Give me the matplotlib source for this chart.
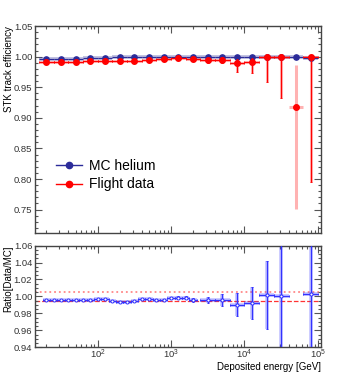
import numpy as np
import matplotlib
matplotlib.use("Agg")
import matplotlib.pyplot as plt
from matplotlib.lines import Line2D
from matplotlib.ticker import MultipleLocator, LogLocator, NullFormatter

plt.rcParams["font.family"] = ["Liberation Sans", "DejaVu Sans"]

# efficiency panel: bin centres (log10 GeV), half width 0.1 decade
eff_logE = [1.3, 1.5, 1.7, 1.9, 2.1, 2.3, 2.5, 2.7, 2.9, 3.1,
            3.3, 3.5, 3.7, 3.9, 4.1, 4.3, 4.5, 4.7, 4.9]
mc_eff = [0.9958, 0.9958, 0.9965, 0.9978, 0.9975, 0.9992, 0.9990, 0.9990, 0.9996, 0.9996,
          0.9995, 0.9995, 0.9995, 0.9995, 0.9995, 0.9995, 0.9995, 0.9995, 0.9972]
data_eff = [0.9912, 0.9912, 0.9918, 0.9928, 0.9930, 0.9933, 0.9933, 0.9938, 0.9955, 0.9978,
            0.9965, 0.9940, 0.9942, 0.9895, 0.9915, 1.0000, 0.9998, 0.9170, 0.9993]
data_err_lo = [0.001, 0.001, 0.001, 0.001, 0.001, 0.001, 0.001, 0.001, 0.0012, 0.0015,
               0.002, 0.004, 0.005, 0.015, 0.019, 0.041, 0.068, 0.166, 0.204]
data_err_hi = [0.001, 0.001, 0.001, 0.001, 0.001, 0.001, 0.001, 0.001, 0.0012, 0.0015,
               0.002, 0.004, 0.005, 0.007, 0.006, 0.0, 0.0002, 0.069, 0.0007]
# points whose error is only drawn as the pale band
pale_only = [4.7]

# ratio panel: bin centres and half widths (log10 GeV)
ratio_logE = [1.3, 1.4, 1.5, 1.6, 1.7, 1.8, 1.9, 2.0, 2.1, 2.2, 2.3, 2.4, 2.5, 2.6, 2.7,
              2.8, 2.9, 3.0, 3.1, 3.2, 3.3, 3.5, 3.7, 3.9, 4.1, 4.3, 4.5, 4.9]
ratio_half = [0.05] * 21 + [0.1] * 7
ratio_val = [0.9953, 0.9953, 0.9955, 0.9953, 0.9955, 0.9953, 0.9953, 0.9968, 0.9970, 0.9945,
             0.9940, 0.9940, 0.9942, 0.9965, 0.9966, 0.9962, 0.9962, 0.9982, 0.9985, 0.9985,
             0.9958, 0.9955, 0.9960, 0.9905, 0.9925, 1.0015, 1.0010, 1.0030]
ratio_err = [0.0005, 0.0005, 0.0005, 0.0005, 0.0005, 0.0005, 0.0005, 0.0006, 0.0006, 0.0007,
             0.0007, 0.0008, 0.0008, 0.0009, 0.0010, 0.0011, 0.0012, 0.0014, 0.0016, 0.0020,
             0.0025, 0.0035, 0.0070, 0.0140, 0.0190, 0.0400, 0.0800, 0.2000]
ratio_band = [1.005, 0.995]

C_MC = "#2b2b99"
C_DATA = "#ff0000"
C_RATIO = "#3333ff"


def _xerr(logs, half):
    logs = np.asarray(logs, float)
    half = np.asarray(half, float)
    x = 10 ** logs
    return x, np.vstack([x - 10 ** (logs - half), 10 ** (logs + half) - x])


def _style(ax, major, minor):
    ax.set_xscale("log")
    ax.set_xlim(14, 1.1e5)
    ax.yaxis.set_major_locator(MultipleLocator(major))
    ax.yaxis.set_minor_locator(MultipleLocator(minor))
    ax.xaxis.set_major_locator(LogLocator(base=10, numticks=10))
    ax.xaxis.set_minor_locator(LogLocator(base=10, subs=np.arange(2, 10), numticks=20))
    ax.xaxis.set_minor_formatter(NullFormatter())
    ax.tick_params(which="both", direction="in", top=True, right=True,
                   labelsize=6.8, labelcolor="#333333", color="#555555", width=0.8, pad=2)
    ax.tick_params(which="major", length=5)
    ax.tick_params(which="minor", length=2.5)
    for s in ax.spines.values():
        s.set_linewidth(1.0)
        s.set_color("#444444")


fig = plt.figure(figsize=(3.57, 3.72), dpi=100)
ax = fig.add_axes([0.098, 0.374, 0.801, 0.556])
axr = fig.add_axes([0.098, 0.066, 0.801, 0.274])

# --- efficiency panel
x, xe = _xerr(eff_logE, [0.1] * len(eff_logE))
ax.errorbar(x, mc_eff, xerr=xe, fmt="none", ecolor=C_MC, elinewidth=2.6, alpha=0.35)
ax.errorbar(x, mc_eff, xerr=xe, fmt="o", color=C_MC, ms=3.8, elinewidth=0.8, zorder=3)

yerr = np.vstack([data_err_lo, data_err_hi])
ax.errorbar(x, data_eff, xerr=xe, yerr=yerr, fmt="none", ecolor=C_DATA,
            elinewidth=2.2, alpha=0.3)
keep = np.array([v not in pale_only for v in eff_logE])
ax.errorbar(x[keep], np.asarray(data_eff)[keep], xerr=xe[:, keep], yerr=yerr[:, keep],
            fmt="none", ecolor=C_DATA, elinewidth=0.8, capsize=1, capthick=0.6, zorder=4)
ax.plot(x, data_eff, "o", color=C_DATA, ms=4, zorder=5)

_style(ax, 0.05, 0.01)
ax.set_ylim(0.712, 1.05)
ax.tick_params(labelbottom=False)
ax.set_ylabel("STK track efficiency", fontsize=7, loc="top")
ax.yaxis.set_label_coords(-0.075, 1.0)

handles = [Line2D([], [], color=C_MC, marker="o", ms=4.5, lw=1),
           Line2D([], [], color=C_DATA, marker="o", ms=4.5, lw=1)]
ax.legend(handles, ["MC helium", "Flight data"], loc="center left",
          bbox_to_anchor=(0.03, 0.28), frameon=False, fontsize=10,
          handlelength=1.9, handletextpad=0.5, labelspacing=0.35)

# --- ratio panel
xr, xre = _xerr(ratio_logE, ratio_half)
for yv, ls, col, lw in [(ratio_band[0], ":", "#ff8888", 1.3), (ratio_band[1], "--", "#ff3333", 0.9)]:
    axr.axhline(yv, ls=ls, color=col, lw=lw, zorder=1)
axr.errorbar(xr, ratio_val, xerr=xre, yerr=ratio_err, fmt="none", ecolor=C_RATIO,
             elinewidth=2.6, alpha=0.3, zorder=2)
axr.errorbar(xr, ratio_val, xerr=xre, yerr=ratio_err, fmt="o", color=C_RATIO, ms=2.2,
             mfc="white", mew=0.7, elinewidth=0.9, capsize=1, capthick=0.6, zorder=3)

_style(axr, 0.02, 0.005)
axr.tick_params(axis="x", pad=0.5)
axr.set_ylim(0.94, 1.06)
axr.set_ylabel("Ratio[Data/MC]", fontsize=7, loc="top")
axr.yaxis.set_label_coords(-0.075, 1.0)
axr.set_xlabel("Deposited energy [GeV]", fontsize=7, loc="right")
axr.xaxis.set_label_coords(1.0, -0.14)

fig.savefig("out.png", dpi=100)
